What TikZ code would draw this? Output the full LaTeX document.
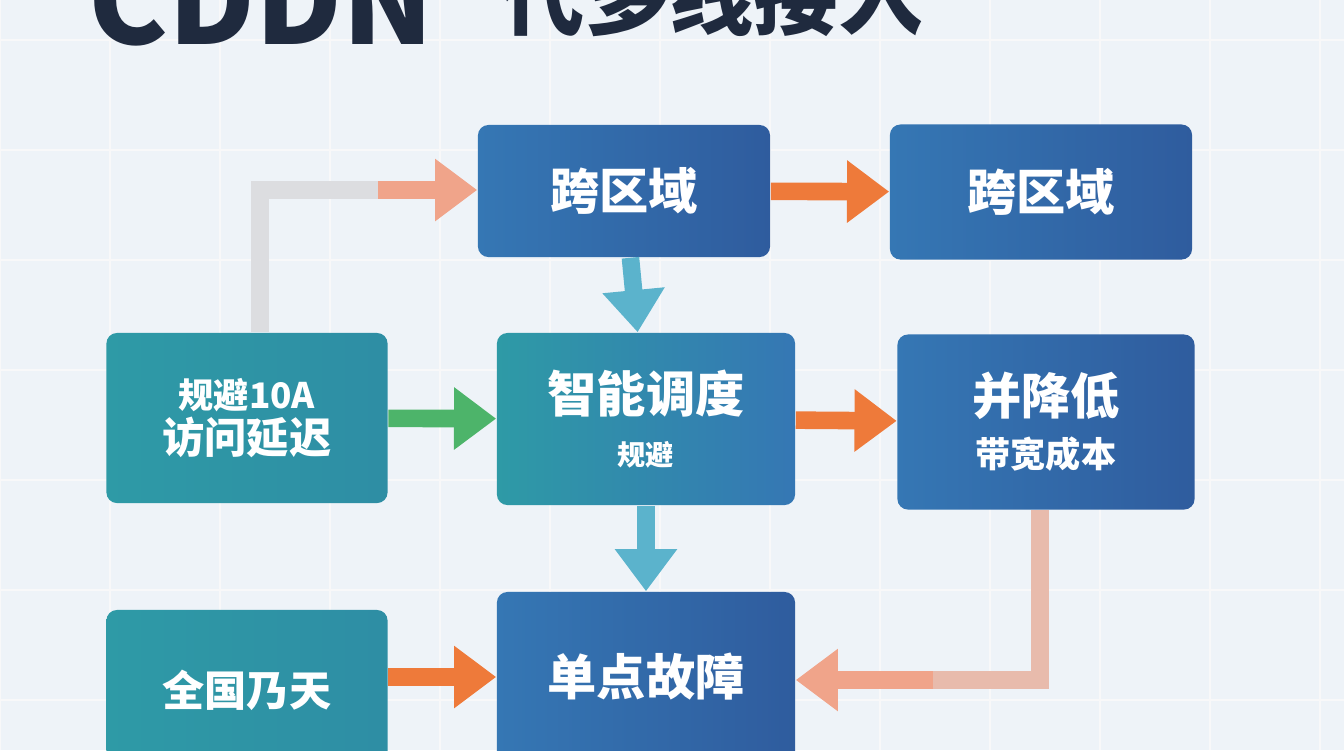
\documentclass[tikz,border=0pt]{standalone}
\usepackage{fontspec}
\setmainfont{Noto Sans CJK SC}
\usetikzlibrary{arrows.meta}
\definecolor{bgc}{HTML}{EEF3F8}
\definecolor{titlec}{HTML}{1F2A3E}
\definecolor{tealc}{HTML}{2E9AA6}
\definecolor{bluec}{HTML}{2F5C9E}
\definecolor{midc}{HTML}{3577B4}
\definecolor{orangec}{HTML}{EE7A3A}
\definecolor{salmonc}{HTML}{F0A48A}
\definecolor{greyc}{HTML}{DCDDE0}
\definecolor{cyanc}{HTML}{5BB3CC}
\definecolor{greenc}{HTML}{4DB46A}
\tikzset{
	box/.style={rectangle, rounded corners=3pt, text=white, font=\bfseries, align=center,
		inner sep=0pt},
	bluebox/.style={box, left color=midc, right color=bluec},
	tealbox/.style={box, left color=tealc, right color=tealc!80!bluec},
	mixbox/.style={box, left color=tealc, right color=midc},
	fat/.style={line width=5pt, -{Triangle[length=12pt,width=17pt]}},
	bar/.style={line width=5pt},
}
\begin{document}
\begin{tikzpicture}[x=0.01cm,y=-0.01cm]
\useasboundingbox (0,0) rectangle (1344,750);
\fill [bgc] (0,0) rectangle (1344,750);
%grid
\foreach \x in {0,110,...,1344}{
	\draw [white!80!greyc, line width=0.5pt] (\x,0)--(\x,750);
}
\foreach \y in {40,150,...,750}{
	\draw [white!80!greyc, line width=0.5pt] (0,\y)--(1344,\y);
}

%title
\node (cddn) [anchor=base west, inner sep=0pt, text=titlec, font=\fontsize{34}{34}\selectfont\bfseries] at (88,44) {CDDN};
\node (ttl) [anchor=base west, inner sep=0pt, text=titlec, font=\fontsize{24}{24}\selectfont\bfseries] at (500,28) {代多线接入};

%boxes
\node (kqy) [bluebox, minimum width=2.92cm, minimum height=1.32cm, font=\fontsize{14}{14}\selectfont\bfseries] at (624,191) {跨区域};
\node (kqy2) [bluebox, minimum width=3.02cm, minimum height=1.35cm, font=\fontsize{14}{14}\selectfont\bfseries] at (1041,192) {跨区域};
\node (gb) [tealbox, minimum width=2.81cm, minimum height=1.70cm, font=\fontsize{10}{13}\selectfont\bfseries] at (247,418) {规避10A\\{\fontsize{12}{14}\selectfont 访问延迟}};
\node (zn) [mixbox, minimum width=2.98cm, minimum height=1.72cm, font=\fontsize{14}{15}\selectfont\bfseries] at (646,419) {智能调度\\{\fontsize{8}{10}\selectfont 规避}};
\node (jd) [bluebox, minimum width=2.97cm, minimum height=1.75cm, font=\fontsize{14}{15}\selectfont\bfseries] at (1046,422) {并降低\\{\fontsize{10}{12}\selectfont 带宽成本}};
\node (qg) [tealbox, minimum width=2.81cm, minimum height=1.60cm, font=\fontsize{12}{12}\selectfont\bfseries] at (247,690) {全国乃天};
\node (dd) [bluebox, minimum width=2.98cm, minimum height=1.70cm, font=\fontsize{14}{14}\selectfont\bfseries] at (646,677) {单点故障};

%connectors
\coordinate (c1) at (260,190);
\coordinate (c2) at (1040,680);
\draw [bar, greyc] (gb.north -| c1) -- (c1) -- (380,190);
\draw [fat, salmonc] (378,190) -- (kqy.west |- c1);
\draw [fat, orangec] (kqy) -- (kqy2);
\draw [fat, cyanc] (kqy) -- (zn);
\draw [fat, greenc] (gb) -- (zn);
\draw [fat, orangec] (zn) -- (jd);
\draw [fat, cyanc] (zn) -- (dd);
\draw [fat, orangec] (qg.east |- dd) -- (dd.west);
\draw [bar, salmonc!60!greyc] (jd.south -| c2) -- (c2) -- (930,680);
\draw [fat, salmonc] (933,680) -- (dd.east |- c2);
\end{tikzpicture}
\end{document}
